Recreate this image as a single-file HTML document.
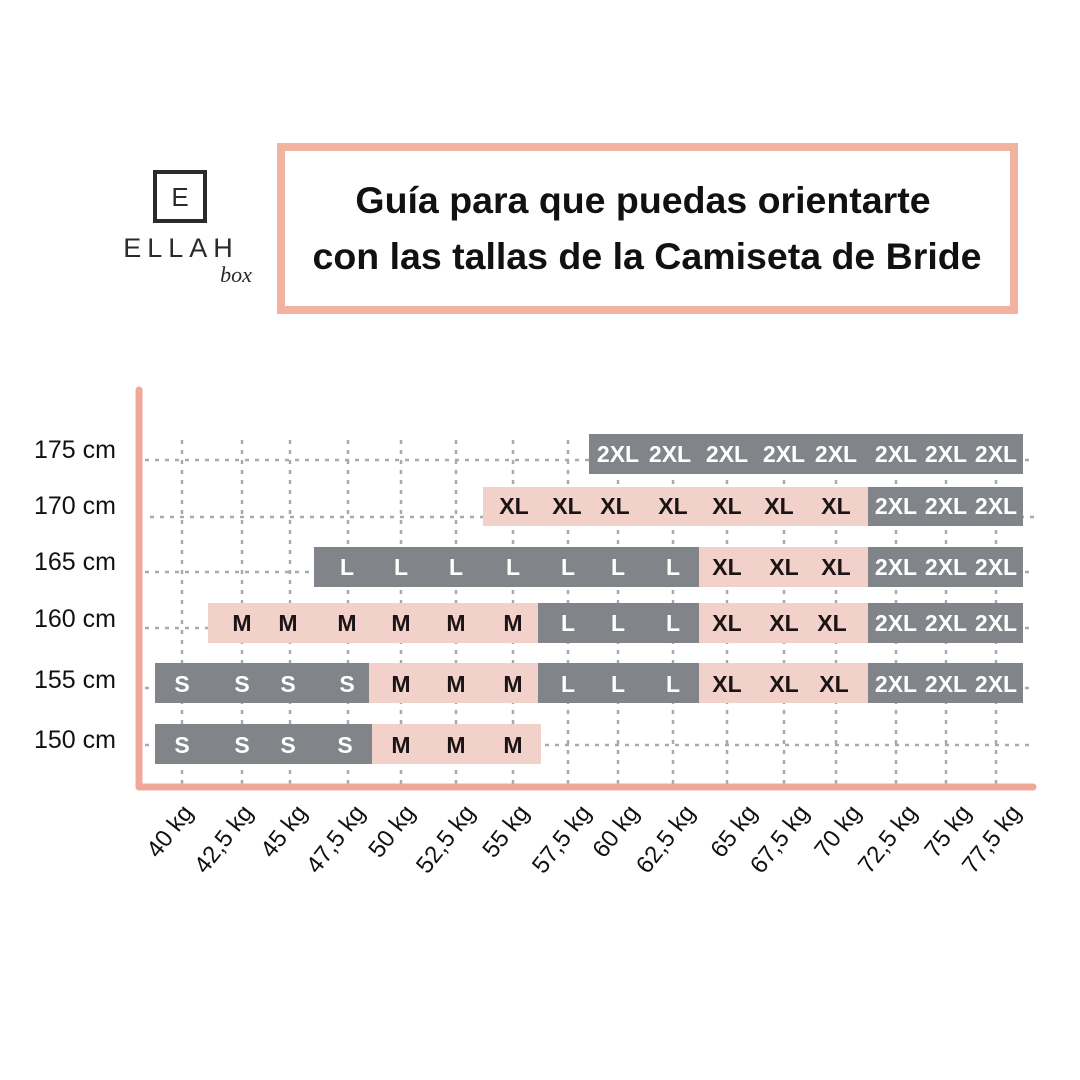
<!DOCTYPE html>
<html><head><meta charset="utf-8"><style>
html,body{margin:0;padding:0;background:#fff;}
svg{display:block}
</style></head><body>
<svg width="1080" height="1080" viewBox="0 0 1080 1080" xmlns="http://www.w3.org/2000/svg" font-family="Liberation Sans, sans-serif">
<rect width="1080" height="1080" fill="#fff"/>
<!-- logo -->
<rect x="155" y="172" width="50" height="49" fill="none" stroke="#2a2a2a" stroke-width="4"/>
<text x="180" y="206" text-anchor="middle" font-size="26" fill="#2a2a2a">E</text>
<text x="181" y="257" text-anchor="middle" font-size="27" letter-spacing="6" fill="#2a2a2a">ELLAH</text>
<text x="236" y="282" text-anchor="middle" font-size="22" font-style="italic" font-family="Liberation Serif, serif" fill="#2a2a2a">box</text>
<!-- title box -->
<rect x="281" y="147" width="733" height="163" fill="none" stroke="#f2b2a1" stroke-width="8"/>
<text x="643" y="213" text-anchor="middle" font-size="37.5" font-weight="bold" fill="#111">Guía para que puedas orientarte</text>
<text x="647" y="269" text-anchor="middle" font-size="37.5" font-weight="bold" fill="#111">con las tallas de la Camiseta de Bride</text>
<!-- grid -->
<g stroke="#6b7280" stroke-width="2.5" stroke-dasharray="4 6" fill="none" opacity="0.6">
<path d="M145 460H1035M150 517H1035M145 572H1035M145 628H1035M145 688H1035M145 745H1035"/>
<path d="M182 440V785M242 440V785M290 440V785M348 440V785M401 440V785M456 440V785M513 440V785M568 440V785M618 440V785M673 440V785M727 440V785M784 440V785M836 440V785M896 440V785M946 440V785M996 440V785"/>
</g>
<!-- bars -->
<g>
<rect x="589" y="434" width="434" height="40" fill="#818488"/>
<rect x="483" y="487" width="385" height="39" fill="#f2d1cb"/>
<rect x="868" y="487" width="155" height="39" fill="#818488"/>
<rect x="314" y="547" width="385" height="40" fill="#818488"/>
<rect x="699" y="547" width="169" height="40" fill="#f2d1cb"/>
<rect x="868" y="547" width="155" height="40" fill="#818488"/>
<rect x="208" y="603" width="330" height="40" fill="#f2d1cb"/>
<rect x="538" y="603" width="161" height="40" fill="#818488"/>
<rect x="699" y="603" width="169" height="40" fill="#f2d1cb"/>
<rect x="868" y="603" width="155" height="40" fill="#818488"/>
<rect x="155" y="663" width="214" height="40" fill="#818488"/>
<rect x="369" y="663" width="169" height="40" fill="#f2d1cb"/>
<rect x="538" y="663" width="161" height="40" fill="#818488"/>
<rect x="699" y="663" width="169" height="40" fill="#f2d1cb"/>
<rect x="868" y="663" width="155" height="40" fill="#818488"/>
<rect x="155" y="724" width="217" height="40" fill="#818488"/>
<rect x="372" y="724" width="169" height="40" fill="#f2d1cb"/>
</g>
<g font-size="23" font-weight="bold" text-anchor="middle">
<g fill="#fff">
<text x="618" y="462">2XL</text><text x="670" y="462">2XL</text><text x="727" y="462">2XL</text><text x="784" y="462">2XL</text><text x="836" y="462">2XL</text><text x="896" y="462">2XL</text><text x="946" y="462">2XL</text><text x="996" y="462">2XL</text>
<text x="896" y="514">2XL</text><text x="946" y="514">2XL</text><text x="996" y="514">2XL</text>
<text x="347" y="575">L</text><text x="401" y="575">L</text><text x="456" y="575">L</text><text x="513" y="575">L</text><text x="568" y="575">L</text><text x="618" y="575">L</text><text x="673" y="575">L</text>
<text x="896" y="575">2XL</text><text x="946" y="575">2XL</text><text x="996" y="575">2XL</text>
<text x="568" y="631">L</text><text x="618" y="631">L</text><text x="673" y="631">L</text>
<text x="896" y="631">2XL</text><text x="946" y="631">2XL</text><text x="996" y="631">2XL</text>
<text x="182" y="692">S</text><text x="242" y="692">S</text><text x="288" y="692">S</text><text x="347" y="692">S</text>
<text x="568" y="692">L</text><text x="618" y="692">L</text><text x="673" y="692">L</text>
<text x="896" y="692">2XL</text><text x="946" y="692">2XL</text><text x="996" y="692">2XL</text>
<text x="182" y="753">S</text><text x="242" y="753">S</text><text x="288" y="753">S</text><text x="345" y="753">S</text>
</g>
<g fill="#1a1414">
<text x="514" y="514">XL</text><text x="567" y="514">XL</text><text x="615" y="514">XL</text><text x="673" y="514">XL</text><text x="727" y="514">XL</text><text x="779" y="514">XL</text><text x="836" y="514">XL</text>
<text x="727" y="575">XL</text><text x="784" y="575">XL</text><text x="836" y="575">XL</text>
<text x="242" y="631">M</text><text x="288" y="631">M</text><text x="347" y="631">M</text><text x="401" y="631">M</text><text x="456" y="631">M</text><text x="513" y="631">M</text>
<text x="727" y="631">XL</text><text x="784" y="631">XL</text><text x="832" y="631">XL</text>
<text x="401" y="692">M</text><text x="456" y="692">M</text><text x="513" y="692">M</text>
<text x="727" y="692">XL</text><text x="784" y="692">XL</text><text x="834" y="692">XL</text>
<text x="401" y="753">M</text><text x="456" y="753">M</text><text x="513" y="753">M</text>
</g>
</g>
<!-- axes -->
<path d="M139 390V787H1033" fill="none" stroke="#f0a898" stroke-width="7" stroke-linecap="round" stroke-linejoin="round"/>
<!-- y labels -->
<g font-size="25" fill="#111">
<text x="34" y="458">175 cm</text><text x="34" y="514">170 cm</text><text x="34" y="570">165 cm</text><text x="34" y="627">160 cm</text><text x="34" y="688">155 cm</text><text x="34" y="748">150 cm</text>
</g>
<!-- x labels -->
<g font-size="24" fill="#111" text-anchor="end">
<text transform="translate(194,813) rotate(-52)">40 kg</text>
<text transform="translate(254,813) rotate(-52)">42,5 kg</text>
<text transform="translate(308,813) rotate(-52)">45 kg</text>
<text transform="translate(366,813) rotate(-52)">47,5 kg</text>
<text transform="translate(416,813) rotate(-52)">50 kg</text>
<text transform="translate(476,813) rotate(-52)">52,5 kg</text>
<text transform="translate(530,813) rotate(-52)">55 kg</text>
<text transform="translate(592,813) rotate(-52)">57,5 kg</text>
<text transform="translate(640,813) rotate(-52)">60 kg</text>
<text transform="translate(696,813) rotate(-52)">62,5 kg</text>
<text transform="translate(758,813) rotate(-52)">65 kg</text>
<text transform="translate(810,813) rotate(-52)">67,5 kg</text>
<text transform="translate(862,813) rotate(-52)">70 kg</text>
<text transform="translate(918,813) rotate(-52)">72,5 kg</text>
<text transform="translate(972,813) rotate(-52)">75 kg</text>
<text transform="translate(1022,813) rotate(-52)">77,5 kg</text>
</g>
</svg>
</body></html>
